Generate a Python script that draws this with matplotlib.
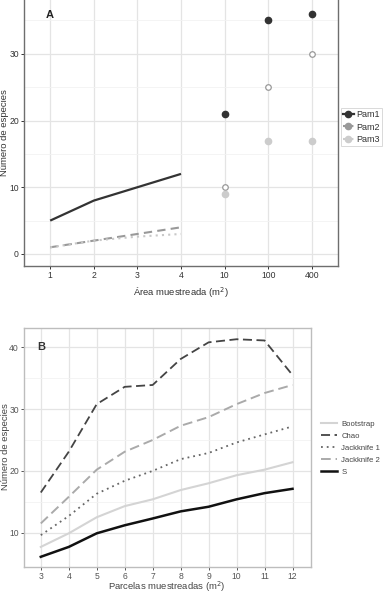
import numpy as np
import matplotlib
matplotlib.use("Agg")
import matplotlib.pyplot as plt
from matplotlib.lines import Line2D

plt.rcParams["font.family"] = ["Liberation Sans", "DejaVu Sans"]

# --- Panel A data ---
AREA_LABELS = ["1", "2", "3", "4", "10", "100", "400"]
AREA_LINE = ["1", "2", "3", "4"]
AREA_POINTS = ["10", "100", "400"]
PAM1_LINE = [5, 8, 10, 12]
PAM2_LINE = [1, 2, 3, 4]
PAM3_LINE = [1, 2, 2.6, 3]
PAM1_POINTS = [21, 35, 36]
PAM2_POINTS = [10, 25, 30]
PAM3_POINTS = [9, 17, 17]

# --- Panel B data ---
PARCELAS = [3, 4, 5, 6, 7, 8, 9, 10, 11, 12]
BOOTSTRAP = [7.7, 9.9, 12.5, 14.3, 15.4, 16.9, 18.0, 19.3, 20.2, 21.4]
CHAO = [16.5, 23.1, 30.8, 33.6, 33.9, 38.1, 40.8, 41.3, 41.1, 35.5]
JACK1 = [9.6, 12.7, 16.3, 18.4, 20.0, 21.9, 22.9, 24.6, 25.9, 27.2]
JACK2 = [11.5, 15.8, 20.2, 23.1, 25.0, 27.3, 28.7, 30.8, 32.6, 33.9]
S_OBS = [6.1, 7.7, 9.9, 11.2, 12.3, 13.45, 14.2, 15.4, 16.4, 17.1]

GRID = "#e4e4e4"
W, H = 384, 593


def style_axes(ax, spine_color, text_color):
    """ggplot theme_bw look: grey frame, light major/minor grid."""
    for sp in ax.spines.values():
        sp.set_color(spine_color)
        sp.set_linewidth(1.0)
    ax.grid(True, which="major", color=GRID, linewidth=0.9)
    ax.grid(True, which="minor", axis="y", color="#f2f2f2", linewidth=0.6)
    ax.set_axisbelow(True)
    ax.tick_params(axis="both", which="major", labelsize=6.2, colors=text_color,
                   length=2.5, width=0.7, pad=1.2)
    ax.tick_params(axis="both", which="minor", length=0)


def panel_a(fig):
    ax = fig.add_axes([24 / W, 1 - 266 / H, 314 / W, 266 / H + 0.005])
    pos = {lab: i for i, lab in enumerate(AREA_LABELS)}
    xl = [pos[a] for a in AREA_LINE]
    xp = [pos[a] for a in AREA_POINTS]

    ax.plot(xl, PAM1_LINE, color="#333333", lw=1.6, solid_capstyle="butt")
    ax.plot(xl, PAM2_LINE, color="#999999", lw=1.5, dashes=(4, 2.5))
    ax.plot(xl, PAM3_LINE, color="#c8c8c8", lw=1.5, dashes=(1, 2))

    ax.plot(xp, PAM1_POINTS, "o", color="#333333", ms=4.5, ls="none")
    ax.plot(xp, PAM2_POINTS, "o", mfc="white", mec="#999999", mew=0.9, ms=4, ls="none")
    ax.plot(xp, PAM3_POINTS, "o", color="#cccccc", ms=4.5, ls="none")

    ax.set_xticks(range(len(AREA_LABELS)))
    ax.set_xticklabels(AREA_LABELS)
    ax.set_xlim(-0.6, len(AREA_LABELS) - 0.4)
    ax.set_yticks([0, 10, 20, 30])
    ax.set_yticks([5, 15, 25, 35], minor=True)
    ax.set_ylim(-1.8, 38.5)
    style_axes(ax, "#6e6e6e", "#333333")

    ax.text(0, 35.8, "A", fontsize=8, fontweight="bold", color="#222222",
            ha="center", va="center")
    ax.set_xlabel("Área muestreada (m$^2$)", fontsize=6.8, color="#333333")
    ax.set_ylabel("Número de especies", fontsize=6.8, color="#333333")
    ax.xaxis.set_label_coords(181 / W, 1 - 285 / H, transform=fig.transFigure)
    ax.yaxis.set_label_coords(5 / W, 1 - 133 / H, transform=fig.transFigure)
    ax.yaxis.label.set_va("center")

    handles = [
        Line2D([], [], color="#333333", lw=1.6, marker="o", ms=4.5),
        Line2D([], [], color="#999999", lw=1.5, dashes=(2, 1), marker="o", ms=4.5),
        Line2D([], [], color="#cccccc", lw=1.5, dashes=(1, 1), marker="o", ms=4.5),
    ]
    leg = fig.legend(handles, ["Pam1", "Pam2", "Pam3"], loc="center left",
                     bbox_to_anchor=(341 / W, 1 - 127 / H), fontsize=6.5,
                     frameon=True, handlelength=1.2, handletextpad=0.3,
                     borderpad=0.2, labelspacing=0.4, fancybox=False,
                     borderaxespad=0)
    leg.get_frame().set_edgecolor("#d0d0d0")
    leg.get_frame().set_linewidth(0.7)
    for t in leg.get_texts():
        t.set_color("#333333")


def panel_b(fig):
    ax = fig.add_axes([24 / W, 1 - 566.7 / H, 286.7 / W, 238.4 / H])

    ax.plot(PARCELAS, BOOTSTRAP, color="#d4d4d4", lw=1.5, label="Bootstrap")
    ax.plot(PARCELAS, CHAO, color="#444444", lw=1.3, dashes=(5, 2.5), label="Chao")
    ax.plot(PARCELAS, JACK1, color="#666666", lw=1.3, dashes=(1, 2.2), label="Jackknife 1")
    ax.plot(PARCELAS, JACK2, color="#aaaaaa", lw=1.4, dashes=(5, 2.5), label="Jackknife 2")
    ax.plot(PARCELAS, S_OBS, color="#111111", lw=1.8, label="S")

    ax.set_xticks(PARCELAS)
    ax.set_xlim(2.4, 12.65)
    ax.set_yticks([10, 20, 30, 40])
    ax.set_yticks([15, 25, 35], minor=True)
    ax.set_ylim(4.5, 43.07)
    style_axes(ax, "#bdbdbd", "#555555")

    ax.text(3, 40, "B", fontsize=8, fontweight="bold", color="#333333",
            ha="center", va="center")
    ax.set_xlabel("Parcelas muestreadas (m$^2$)", fontsize=6.8, color="#444444")
    ax.set_ylabel("Número de especies", fontsize=6.8, color="#444444")
    ax.xaxis.set_label_coords(167 / W, 1 - 579.5 / H, transform=fig.transFigure)
    ax.yaxis.set_label_coords(5.5 / W, 1 - 447 / H, transform=fig.transFigure)
    ax.yaxis.label.set_va("center")

    leg = fig.legend(*ax.get_legend_handles_labels(), loc="center left",
                     bbox_to_anchor=(321 / W, 1 - 448 / H), fontsize=5.6,
                     frameon=False, handlelength=2.0, handletextpad=0.6,
                     labelspacing=0.6, borderaxespad=0, borderpad=0)
    for t in leg.get_texts():
        t.set_color("#444444")


def main():
    fig = plt.figure(figsize=(W / 100, H / 100), dpi=100)
    panel_a(fig)
    panel_b(fig)
    fig.savefig("out.png", dpi=100, facecolor="white")
    plt.close(fig)


if __name__ == "__main__":
    main()
